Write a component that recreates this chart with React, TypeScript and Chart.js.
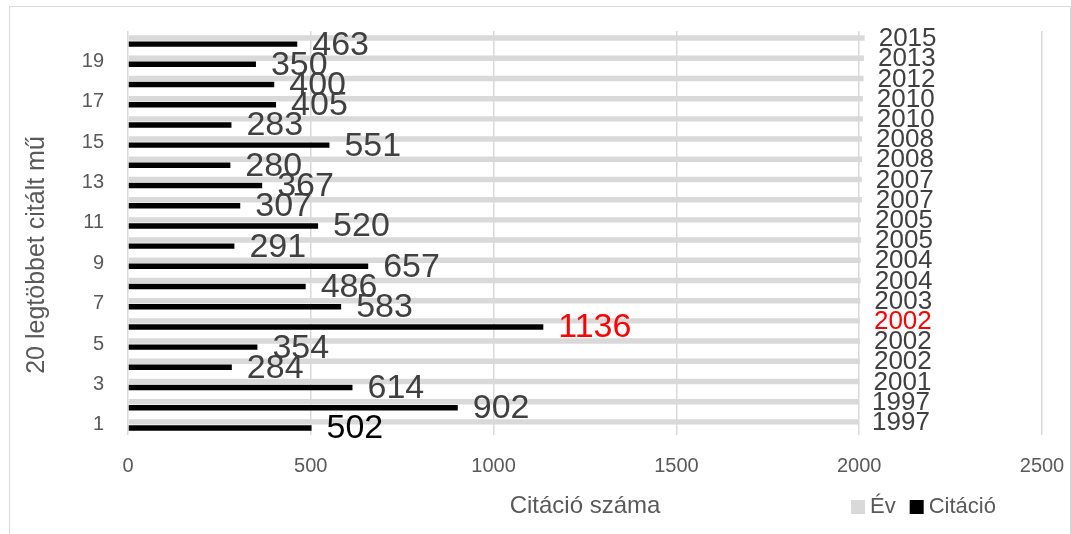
import React, { useEffect, useRef } from "react";
import { Chart, registerables } from "chart.js";

Chart.register(...registerables);

const categories = ["1", "2", "3", "4", "5", "6", "7", "8", "9", "10", "11", "12", "13", "14", "15", "16", "17", "18", "19", "20"];
const years = [1997, 1997, 2001, 2002, 2002, 2002, 2003, 2004, 2004, 2005, 2005, 2007, 2007, 2008, 2008, 2010, 2010, 2012, 2013, 2015];
const citations = [502, 902, 614, 284, 354, 1136, 583, 486, 657, 291, 520, 307, 367, 280, 551, 283, 405, 400, 350, 463];
const xMin = 0;
const xMax = 2500;
const xStep = 500;
const seriesNames = ["Év", "Citáció"];
const xTitle = "Citáció száma";
const yTitle = "20 legtöbbet citált mű";
const highlightIndex = 5;
const darkIndex = 0;

const FONT = '"Liberation Sans", Arimo, Arial, sans-serif';
const GREY_TEXT = "#595959";
const LABEL_TEXT = "#404040";
const BAR_GREY = "#d9d9d9";

const labelPlugin = {
  id: "barLabels",
  afterDatasetsDraw(chart: any) {
    const ctx = chart.ctx;
    ctx.save();
    ctx.textBaseline = "middle";
    ctx.textAlign = "left";
    chart.data.datasets.forEach((ds: any, di: number) => {
      const meta = chart.getDatasetMeta(di);
      meta.data.forEach((el: any, i: number) => {
        const v = ds.data[i];
        if (di === 0) {
          ctx.font = `26px ${FONT}`;
          ctx.fillStyle = i === highlightIndex ? "#ff0000" : LABEL_TEXT;
          ctx.fillText(String(v), el.x + 14, el.y + 1);
        } else {
          ctx.font = `34px ${FONT}`;
          ctx.fillStyle = i === highlightIndex ? "#ff0000" : i === darkIndex ? "#000000" : LABEL_TEXT;
          ctx.fillText(String(v), el.x + 15, el.y + 1);
        }
      });
    });
    ctx.restore();
  },
  afterDraw(chart: any) {
    const ctx = chart.ctx;
    const area = chart.chartArea;
    ctx.save();
    ctx.fillStyle = GREY_TEXT;
    ctx.textBaseline = "middle";
    // y title
    ctx.save();
    ctx.translate(37, (area.top + area.bottom) / 2 + 22);
    ctx.rotate(-Math.PI / 2);
    ctx.font = `25px ${FONT}`;
    ctx.textAlign = "center";
    ctx.fillText(yTitle, 0, 0);
    ctx.restore();
    // legend
    let x = 851;
    const y = 507;
    ctx.font = `22px ${FONT}`;
    ctx.textAlign = "left";
    chart.data.datasets.forEach((ds: any) => {
      ctx.fillStyle = ds.backgroundColor;
      ctx.fillRect(x, y - 7, 14, 14);
      ctx.fillStyle = GREY_TEXT;
      ctx.fillText(ds.label, x + 19, y);
      x += 19 + ctx.measureText(ds.label).width + 14;
    });
    ctx.restore();
  },
};

export default function App() {
  const ref = useRef<HTMLCanvasElement>(null);
  useEffect(() => {
    if (!ref.current) return;
    const chart = new Chart(ref.current, {
      type: "bar",
      data: {
        labels: categories,
        datasets: [
          { label: seriesNames[0], data: years, backgroundColor: BAR_GREY, categoryPercentage: 0.6, barPercentage: 0.9 },
          { label: seriesNames[1], data: citations, backgroundColor: "#000000", categoryPercentage: 0.6, barPercentage: 0.9 },
        ],
      },
      options: {
        indexAxis: "y",
        responsive: false,
        animation: false,
        layout: { padding: { top: 31, right: 29, left: 0, bottom: 0 } },
        plugins: { legend: { display: false }, tooltip: { enabled: false }, title: { display: false } },
        scales: {
          x: {
            min: xMin,
            max: xMax,
            ticks: {
              stepSize: xStep,
              color: GREY_TEXT,
              font: { family: FONT, size: 20 },
              padding: 19,
              callback: (v: any) => String(v),
            },
            title: { display: true, text: xTitle, color: GREY_TEXT, font: { family: FONT, size: 24 }, padding: { top: 0, bottom: 13 } },
            grid: { color: "#d9d9d9", lineWidth: 1.5, drawTicks: false },
            border: { display: false },
            afterFit: (s: any) => { s.height = 99; s.paddingLeft = 0; s.paddingRight = 0; s.paddingTop = 0; s.paddingBottom = 0; },
          },
          y: {
            reverse: true,
            ticks: {
              autoSkip: false,
              color: GREY_TEXT,
              font: { family: FONT, size: 20 },
              padding: 24,
              callback: (_v: any, i: number) => (i % 2 === 0 ? categories[i] : ""),
            },
            grid: { display: false, drawTicks: false },
            border: { display: false },
            afterFit: (s: any) => { s.width = 128; s.paddingLeft = 0; s.paddingRight = 0; s.paddingTop = 0; s.paddingBottom = 0; },
          },
        },
      },
      plugins: [labelPlugin],
    });
    return () => chart.destroy();
  }, []);
  return (
    <div style={{ position: "fixed", left: 0, top: 0, width: 1071, height: 534, background: "#fff" }}>
      <div style={{ position: "absolute", left: 9, top: 6, width: 1062, height: 600, border: "1px solid #d9d9d9", boxSizing: "border-box" }} />
      <canvas ref={ref} width={1071} height={534} style={{ position: "absolute", left: 0, top: 0 }} />
    </div>
  );
}
